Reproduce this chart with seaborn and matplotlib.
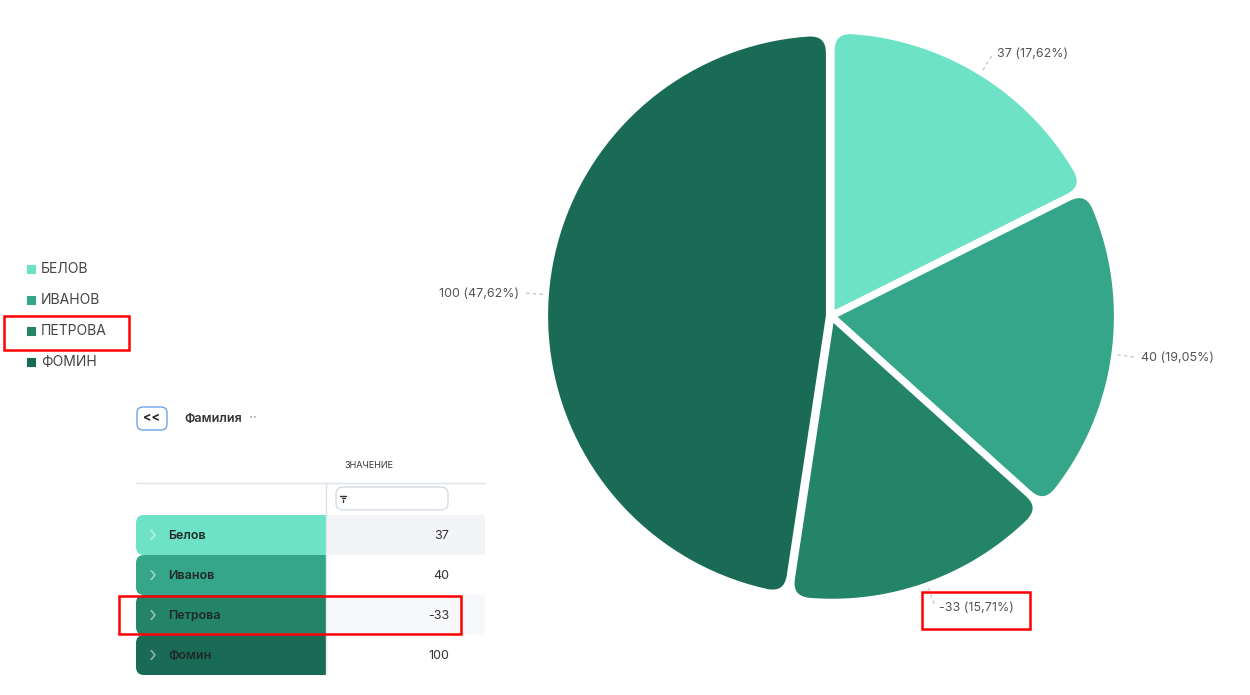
import numpy as np
import matplotlib
matplotlib.use("Agg")
import matplotlib.pyplot as plt
from matplotlib.path import Path
from matplotlib.patches import PathPatch, FancyBboxPatch, Rectangle
import seaborn as sns
import pandas as pd

# ---------------- data ----------------
legend_names = ["БЕЛОВ", "ИВАНОВ", "ПЕТРОВА", "ФОМИН"]
row_names = ["Белов", "Иванов", "Петрова", "Фомин"]
values = [37, 40, -33, 100]
colors = ["#6DE2C6", "#36A68A", "#248468", "#196B55"]
table_header = "Фамилия"
value_header = "ЗНАЧЕНИЕ"
highlight = "ПЕТРОВА"

sns.set_theme(style="white")
plt.rcParams['font.family'] = ['Inter', 'DejaVu Sans']

W, H = 1250, 695
fig = plt.figure(figsize=(W / 100, H / 100), dpi=100)
fig.patch.set_facecolor("white")

# overlay axes in screen pixel coords (y down)
ax = fig.add_axes([0, 0, 1, 1])
ax.set_xlim(0, W)
ax.set_ylim(H, 0)
ax.axis("off")

# pie axes in pixel coords (y up)
pax = fig.add_axes([0, 0, 1, 1])
pax.patch.set_alpha(0)

abs_vals = np.abs(values)
total = abs_vals.sum()
cx, cy = 831, H - 316
R = 282
wedges, _ = pax.pie(abs_vals, colors=colors, startangle=90, counterclock=False,
                    center=(cx, cy), radius=R, explode=[3] * len(values),
                    frame=False)
pax.set_aspect("auto")
pax.set_xlim(0, W)
pax.set_ylim(0, H)
pax.axis("off")


def P(c, r, t):
    return (c[0] + r * np.cos(np.radians(t)), c[1] + r * np.sin(np.radians(t)))


def rounded_path(c, r, t1, t2, f=19):
    d = np.degrees(f / r)
    verts = [c, P(c, r - f, t1), P(c, r, t1), P(c, r, t1 + d)]
    codes = [Path.MOVETO, Path.LINETO, Path.CURVE3, Path.CURVE3]
    for t in np.linspace(t1 + d, t2 - d, 80):
        verts.append(P(c, r, t))
        codes.append(Path.LINETO)
    verts += [P(c, r, t2), P(c, r - f, t2), c, c]
    codes += [Path.CURVE3, Path.CURVE3, Path.LINETO, Path.CLOSEPOLY]
    return Path(verts, codes)


for i, w in enumerate(wedges):
    w.set_visible(False)
    path = rounded_path(w.center, w.r, w.theta1, w.theta2)
    pax.add_patch(PathPatch(path, facecolor=colors[i], edgecolor="white",
                            lw=3.0, joinstyle="miter"))
    tm = 0.5 * (w.theta1 + w.theta2)
    p1 = P(w.center, R + 4, tm)
    p2 = P(w.center, R + 24, tm)
    pax.plot([p1[0], p2[0]], [p1[1], p2[1]], ls=(0, (3, 3)), color="#BBBBBB", lw=0.8)
    pct = abs_vals[i] / total * 100
    lab = f"{values[i]} ({pct:.2f}%)".replace(".", ",")
    right = np.cos(np.radians(tm)) >= 0
    tx = p2[0] + (4 if right else -4)
    pax.text(tx, p2[1] - 1, lab, ha="left" if right else "right", va="center",
             fontsize=9, color="#555555")

# red box around highlighted pie label
ax.add_patch(Rectangle((922, 592), 108, 37, fill=False, ec="#FF0000", lw=1.8))

# ---------------- legend ----------------
leg_df = pd.DataFrame({"x": [31] * len(legend_names),
                       "y": [269 + 31 * i for i in range(len(legend_names))],
                       "name": legend_names})
sns.scatterplot(data=leg_df, x="x", y="y", hue="name", palette=colors, marker="s",
                s=26, linewidth=0.8, edgecolor=None, legend=False, ax=ax)
for coll in ax.collections:
    coll.set_edgecolor(colors)
    coll.set_joinstyle("round")
ax.set_xlim(0, W)
ax.set_ylim(H, 0)
ax.axis("off")
for i, n in enumerate(legend_names):
    ax.text(41, 269 + 31 * i, n, ha="left", va="center", fontsize=10, color="#444444")
hi = legend_names.index(highlight)
ax.add_patch(Rectangle((4, 269 + 31 * hi - 15), 125, 34, fill=False, ec="#FF0000", lw=1.8))

# ---------------- table ----------------
ax.add_patch(FancyBboxPatch((137, 407), 30, 23, boxstyle="round,pad=0,rounding_size=6",
                            fc="white", ec="#6FA3E8", lw=1.0))
ax.text(152, 418, "<<", ha="center", va="center", fontsize=9, color="#222222",
        fontweight="bold")
ax.text(184, 419, table_header, ha="left", va="center", fontsize=9, color="#333333",
        fontweight="semibold")
ax.text(253, 419, "··", ha="center", va="center", fontsize=11, color="#A0A8B8")
ax.text(344, 466, value_header, ha="left", va="center", fontsize=6.5, color="#333333")
ax.plot([136, 485], [483, 483], color="#DDE1E8", lw=1)
ax.plot([326, 326], [483, 515], color="#DDE1E8", lw=1)
ax.add_patch(FancyBboxPatch((336, 487), 112, 23, boxstyle="round,pad=0,rounding_size=7",
                            fc="white", ec="#D5DCE6", lw=1.0))
ax.plot([340, 346], [495.5, 495.5], color="#333333", lw=1.0)
ax.plot([341.5, 344.5], [498, 498], color="#333333", lw=1.0)
ax.plot([343, 343], [499.5, 501.5], color="#333333", lw=1.0)

row_bg = ["#F3F4F8", "#FFFFFF", "#F7F8FB", "#FFFFFF"]
for i, (n, v) in enumerate(zip(row_names, values)):
    top = 515 + 40 * i
    ax.add_patch(FancyBboxPatch((136, top), 200, 40,
                                boxstyle="round,pad=0,rounding_size=8",
                                fc=colors[i], ec="none", zorder=2 + i * 0.01))
    ax.add_patch(Rectangle((326, top), 159, 40, fc=row_bg[i], ec="none", zorder=3))
    ax.text(152, top + 20.5, "›", ha="center", va="center", fontsize=15,
            color="#FFFFFF", alpha=0.5, zorder=4)
    ax.text(168, top + 21, n, ha="left", va="center", fontsize=9,
            color="#1E2A28", fontweight="semibold", zorder=4)
    ax.text(449, top + 21, str(v), ha="right", va="center", fontsize=9,
            color="#333333", zorder=4)
ax.plot([326, 326], [515, 675], color="#E4E7EC", lw=1, zorder=3.5)
hr = row_names.index("Петрова")
ax.add_patch(Rectangle((119, 515 + 40 * hr + 1), 342, 38, fill=False, ec="#FF0000",
                       lw=1.8, zorder=5))

fig.savefig("out.png", dpi=100, facecolor="white")
